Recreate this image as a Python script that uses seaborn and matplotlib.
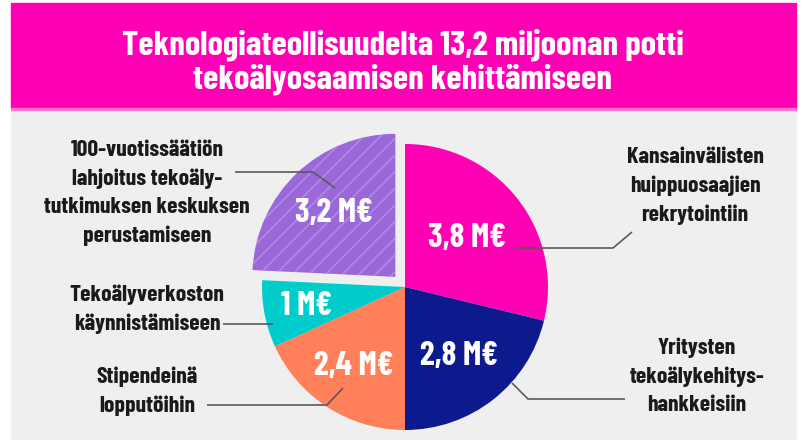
import matplotlib
matplotlib.use("Agg")
import math
import matplotlib.pyplot as plt
import seaborn as sns
from matplotlib.patches import Rectangle

# data
title = "Teknologiateollisuudelta 13,2 miljoonan potti\ntekoälyosaamisen kehittämiseen"
categories = ["Kansainvälisten\nhuippuosaajien\nrekrytointiin",
              "Yritysten\ntekoälykehitys-\nhankkeisiin",
              "Stipendeinä\nlopputöihin",
              "Tekoälyverkoston\nkäynnistämiseen",
              "100-vuotissäätiön\nlahjoitus tekoäly-\ntutkimuksen keskuksen\nperustamiseen"]
values = [3.8, 2.8, 2.4, 1.0, 3.2]
value_labels = ["3,8 M€", "2,8 M€", "2,4 M€", "1 M€", "3,2 M€"]
colors = ["#ff00b4", "#0c1a8e", "#ff8059", "#00cccc", "#9b68da"]
explode = [0, 0, 0, 0, 14]

# layout (pixels, image coords from top-left)
W, H = 805, 440
pie_center = (405, 287)
pie_radius = 143
value_r = [0.55, 0.61, 0.66, 0.70, 0.62]
label_pos = [(695, 186), (697, 376), (147, 391), (147, 309), (147, 193)]
leaders = [
    [(515, 248), (613, 248), (632, 232)],
    [(512, 383), (528, 399), (625, 399)],
    [(343, 388), (327, 405), (207, 405)],
    [(273, 324), (223, 324)],
    [(335, 188), (313, 172), (235, 172)],
]

sns.set_theme(style="white")
plt.rcParams['font.family'] = ['Barlow Condensed', 'DejaVu Sans']
plt.rcParams['hatch.linewidth'] = 1.0


def Y(y):
    return H - y


fig = plt.figure(figsize=(W / 100, H / 100), dpi=100)
fig.patch.set_facecolor("white")
ax = fig.add_axes([0, 0, 1, 1])

ax.add_patch(Rectangle((11, Y(440)), 785, 331, color="#efefef", zorder=0))
ax.add_patch(Rectangle((11, Y(108)), 785, 105, color="#ff00b4", zorder=0))
ax.add_patch(Rectangle((11, Y(110)), 785, 2, color="#ff77cc", zorder=0))

wedges, _ = ax.pie(values, colors=colors, startangle=90, counterclock=False,
                   center=(pie_center[0], Y(pie_center[1])), radius=pie_radius,
                   explode=explode, frame=True,
                   wedgeprops=dict(linewidth=0))
wedges[4].set_hatch("//")
wedges[4].set_edgecolor("#b38ee6")
wedges[4].set_linewidth(0)

for w, txt, f in zip(wedges, value_labels, value_r):
    ang = math.radians((w.theta1 + w.theta2) / 2)
    cx, cy = w.center
    ax.text(cx + f * pie_radius * math.cos(ang), cy + f * pie_radius * math.sin(ang),
            txt, color="white", fontsize=24, fontweight="bold",
            ha="center", va="center", zorder=5)

for pts in leaders:
    ax.plot([p[0] for p in pts], [Y(p[1]) for p in pts], color="#5a5a5a",
            lw=1.2, zorder=4, solid_capstyle="butt")

for (x, y), txt in zip(label_pos, categories):
    ax.text(x, Y(y), txt, fontsize=17, fontweight="bold", color="#1a1a1a",
            ha="center", va="center", linespacing=1.5, zorder=5)

ax.text(W / 2, Y(62), title, fontsize=25, fontweight="bold", color="white",
        ha="center", va="center", linespacing=1.1, zorder=5)

ax.set_xlim(0, W)
ax.set_ylim(0, H)
ax.set_aspect("equal")
ax.axis("off")

fig.savefig("out.png", dpi=100, facecolor=fig.get_facecolor())
